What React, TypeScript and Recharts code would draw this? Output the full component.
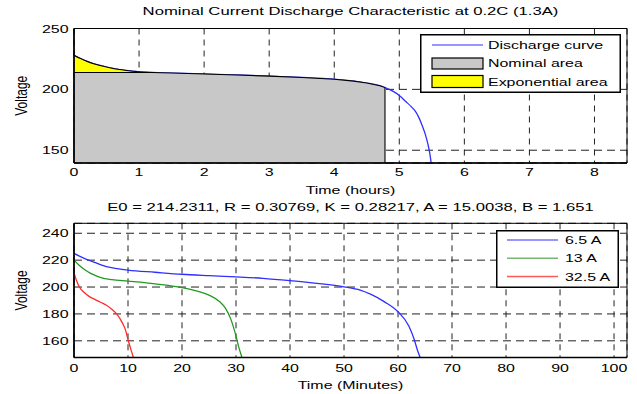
import React from 'react';
import { ComposedChart, Area, Line, XAxis, YAxis, CartesianGrid, Legend, Label, ReferenceArea } from 'recharts';

const FONT = '"Liberation Sans", Arial, sans-serif';
const SX = 1.45;

// ---------- top plot ----------
const topTitle = 'Nominal Current Discharge Characteristic at 0.2C (1.3A)';
const topXLabel = 'Time (hours)';
const yLabel = 'Voltage';
const topXTicks = [0, 1, 2, 3, 4, 5, 6, 7, 8];
const topYTicks = [150, 200, 250];
const topXDomain = [0, 8.5];
const topYDomain = [139.5, 250];
const topLegendNames = ['Discharge curve', 'Nominal area', 'Exponential area'];

const dischargeCurve = [
  { t: 0, v: 228 }, { t: 0.1, v: 225.3 }, { t: 0.2, v: 223 }, { t: 0.3, v: 221.1 },
  { t: 0.4, v: 219.6 }, { t: 0.5, v: 218.3 }, { t: 0.6, v: 217.2 }, { t: 0.7, v: 216.3 },
  { t: 0.8, v: 215.5 }, { t: 0.9, v: 214.9 }, { t: 1.0, v: 214.4 }, { t: 1.2, v: 213.9 },
  { t: 1.5, v: 213.4 }, { t: 2.0, v: 212.6 }, { t: 2.5, v: 211.8 }, { t: 3.0, v: 210.9 },
  { t: 3.5, v: 209.8 }, { t: 4.0, v: 208.3 }, { t: 4.3, v: 206.8 }, { t: 4.5, v: 205.2 },
  { t: 4.7, v: 203 }, { t: 4.78, v: 201.5 }, { t: 4.9, v: 198.5 }, { t: 5.0, v: 195 },
  { t: 5.1, v: 190 }, { t: 5.18, v: 186 }, { t: 5.24, v: 182.5 }, { t: 5.3, v: 177 },
  { t: 5.35, v: 170.5 }, { t: 5.4, v: 163 }, { t: 5.44, v: 155 }, { t: 5.47, v: 147 },
  { t: 5.49, v: 139.5 },
];

const nominalArea = [
  { t: 0, v: 213.8 }, { t: 1.2, v: 213.8 }, { t: 1.5, v: 213.4 }, { t: 2.0, v: 212.6 },
  { t: 2.5, v: 211.8 }, { t: 3.0, v: 210.9 }, { t: 3.5, v: 209.8 }, { t: 4.0, v: 208.3 },
  { t: 4.3, v: 206.8 }, { t: 4.5, v: 205.2 }, { t: 4.7, v: 203 }, { t: 4.78, v: 201.5 },
  { t: 4.78, v: 139.5 },
];

const exponentialArea = [
  { t: 0, lo: 213.8, hi: 228 }, { t: 0.1, lo: 213.8, hi: 225.3 }, { t: 0.2, lo: 213.8, hi: 223 },
  { t: 0.3, lo: 213.8, hi: 221.1 }, { t: 0.4, lo: 213.8, hi: 219.6 }, { t: 0.5, lo: 213.8, hi: 218.3 },
  { t: 0.6, lo: 213.8, hi: 217.2 }, { t: 0.7, lo: 213.8, hi: 216.3 }, { t: 0.8, lo: 213.8, hi: 215.5 },
  { t: 0.9, lo: 213.8, hi: 214.9 }, { t: 1.0, lo: 213.8, hi: 214.4 }, { t: 1.2, lo: 213.8, hi: 213.9 },
];

// ---------- bottom plot ----------
const bottomTitle = 'E0 = 214.2311, R = 0.30769, K = 0.28217, A = 15.0038, B = 1.651';
const bottomXLabel = 'Time (Minutes)';
const bottomXTicks = [0, 10, 20, 30, 40, 50, 60, 70, 80, 90, 100];
const bottomYTicks = [160, 180, 200, 220, 240];
const bottomXDomain = [0, 102.4];
const bottomYDomain = [147.6, 247.4];
const bottomLegendNames = ['6.5 A', '13 A', '32.5 A'];

const curve6_5A = [
  { t: 0, v: 225 }, { t: 1, v: 223 }, { t: 2, v: 221.2 }, { t: 3, v: 219.6 }, { t: 4, v: 218.1 },
  { t: 5, v: 216.4 }, { t: 6, v: 215.2 }, { t: 8, v: 213.7 }, { t: 10, v: 212.6 }, { t: 15, v: 211 },
  { t: 20, v: 209.5 }, { t: 25, v: 208.5 }, { t: 30, v: 207.6 }, { t: 35, v: 206.5 }, { t: 40, v: 204.8 },
  { t: 45, v: 202.8 }, { t: 50, v: 200.2 }, { t: 53, v: 197.7 }, { t: 55, v: 194.5 }, { t: 57.5, v: 189 },
  { t: 60, v: 181.6 }, { t: 62, v: 171 }, { t: 63, v: 161 }, { t: 63.6, v: 153 }, { t: 64.1, v: 147.6 },
];

const curve13A = [
  { t: 0, v: 220 }, { t: 1, v: 216 }, { t: 2, v: 212.8 }, { t: 3, v: 210.3 }, { t: 4, v: 208.5 },
  { t: 5, v: 207 }, { t: 7, v: 205.5 }, { t: 10, v: 204.4 }, { t: 15, v: 202.4 }, { t: 20, v: 199.6 },
  { t: 23, v: 196.8 }, { t: 25, v: 194 }, { t: 27, v: 189 }, { t: 28, v: 184.5 }, { t: 29, v: 176.5 },
  { t: 30, v: 163.5 }, { t: 30.5, v: 155.5 }, { t: 31.1, v: 147.6 },
];

const curve32_5A = [
  { t: 0, v: 210.5 }, { t: 0.5, v: 204.5 }, { t: 1, v: 200 }, { t: 2, v: 195.5 }, { t: 3, v: 192.5 },
  { t: 4, v: 190.5 }, { t: 5, v: 188.5 }, { t: 6, v: 186.5 }, { t: 7, v: 183.5 }, { t: 8, v: 179.5 },
  { t: 9, v: 173 }, { t: 9.5, v: 168.5 }, { t: 10, v: 161 }, { t: 10.5, v: 154 }, { t: 11, v: 147.6 },
];

// ---------- styles ----------
const BLUE = '#2f2fff';
const GREEN = '#229922';
const RED = '#ff2a2a';
const GRAY = '#c8c8c8';
const YELLOW = '#ffff00';
const LEG_BLUE = '#7474ff';
const LEG_GREEN = '#74b874';
const LEG_RED = '#ff5a5a';

const txt = (x: number, y: number, s: string, anchor: string, size = 11, rotate = false, key?: any) => (
  <text
    key={key}
    transform={`translate(${x},${y}) scale(${SX},1)${rotate ? ' rotate(-90)' : ''}`}
    textAnchor={anchor}
    fontFamily={FONT}
    fontSize={size}
    fill="#000"
  >
    {s}
  </text>
);

const makeXTick = (dy: number) => (p: any) => txt(p.x, p.y + dy, String(p.payload.value), 'middle');
const makeYTick = () => (p: any) => txt(p.x - 5.5, p.y + 4, String(p.payload.value), 'end');

const TopLegend = () => (
  <svg width={201} height={59} style={{ display: 'block' }}>
    <rect x={0.75} y={0.75} width={199.5} height={57.5} fill="#fff" stroke="#000" strokeWidth={1.5} />
    <line x1={12} x2={63} y1={11} y2={11} stroke={LEG_BLUE} strokeWidth={1.5} />
    <rect x={12} y={24} width={51} height={11} fill={GRAY} stroke="#000" strokeWidth={1.2} />
    <rect x={12} y={41.5} width={51} height={12} fill={YELLOW} stroke="#000" strokeWidth={1.2} />
    {topLegendNames.map((n, i) => txt(68, 15 + i * 18.3, n, 'start', 11, false, n))}
  </svg>
);

const BottomLegend = () => {
  const cols = [LEG_BLUE, LEG_GREEN, LEG_RED];
  return (
    <svg width={123} height={58} style={{ display: 'block' }}>
      <rect x={0.75} y={0.75} width={121.5} height={56.5} fill="#fff" stroke="#000" strokeWidth={1.5} />
      {bottomLegendNames.map((n, i) => (
        <g key={n}>
          <line x1={11} x2={62} y1={10 + i * 18.3} y2={10 + i * 18.3} stroke={cols[i]} strokeWidth={1.5} />
          {txt(69, 14 + i * 18.3, n, 'start')}
        </g>
      ))}
    </svg>
  );
};

const axisLine = { stroke: '#000', strokeWidth: 1.6 };

const titleLabel = (title: string, dy: number) => (
  <Label content={(p: any) => txt(p.viewBox.x + p.viewBox.width / 2, p.viewBox.y - dy, title, 'middle', 11.5)} />
);

export default function App() {
  return (
    <div style={{ position: 'absolute', left: 0, top: 0, width: 637, height: 394, background: '#fff' }}>
      <div style={{ position: 'absolute', left: 0, top: 0 }}>
        <ComposedChart width={637} height={200} margin={{ top: 28.5, right: 10, bottom: 7, left: 0 }}>
          <CartesianGrid vertical={false} strokeDasharray="8 5" stroke="#222" />
          <CartesianGrid horizontal={false} strokeDasharray="6 5" stroke="#222" />
          <XAxis dataKey="t" type="number" domain={topXDomain} ticks={topXTicks} allowDataOverflow
            height={30} tickSize={0} tickMargin={0} tickLine={false} axisLine={axisLine} tick={makeXTick(12.5)}>
            <Label content={(p: any) => txt(p.viewBox.x + p.viewBox.width / 2, p.viewBox.y + 30.5, topXLabel, 'middle')} />
          </XAxis>
          <YAxis type="number" domain={topYDomain} ticks={topYTicks} allowDataOverflow width={74}
            tickSize={0} tickMargin={0} tickLine={false} axisLine={axisLine} tick={makeYTick()}>
            <Label content={(p: any) => txt(27, p.viewBox.y + p.viewBox.height / 2, yLabel, 'middle', 12, true)} />
          </YAxis>
          <Area data={dischargeCurve} dataKey="v" name={topLegendNames[0]} type="monotone" fill="none" stroke={BLUE} strokeWidth={1.3} dot={false} isAnimationActive={false} />
          <Area data={nominalArea} dataKey="v" name={topLegendNames[1]} type="linear" fill={GRAY} fillOpacity={1} stroke="#000" strokeWidth={1.1} dot={false} isAnimationActive={false} />
          <Area data={exponentialArea} dataKey={(d: any) => [d.lo, d.hi]} name={topLegendNames[2]} type="monotone" fill={YELLOW} fillOpacity={1} stroke="#000" strokeWidth={1.1} dot={false} isAnimationActive={false} />
          <ReferenceArea x1={topXDomain[0]} x2={topXDomain[1]} y1={topYDomain[0]} y2={topYDomain[1]}
            fill="none" fillOpacity={0} stroke="#000" strokeWidth={1} ifOverflow="visible">
            {titleLabel(topTitle, 13.5)}
          </ReferenceArea>
          <Legend layout="horizontal" verticalAlign="middle" align="center"
            wrapperStyle={{ position: 'absolute', left: 420, top: 34, width: 201, height: 59, margin: 0, padding: 0 }}
            content={() => <TopLegend />} />
        </ComposedChart>
      </div>
      <div style={{ position: 'absolute', left: 0, top: 195 }}>
        <ComposedChart width={637} height={199} margin={{ top: 28.3, right: 10, bottom: 6.5, left: 0 }}>
          <CartesianGrid vertical={false} strokeDasharray="8 5" stroke="#222" />
          <CartesianGrid horizontal={false} strokeDasharray="6 5" stroke="#222" />
          <XAxis dataKey="t" type="number" domain={bottomXDomain} ticks={bottomXTicks} allowDataOverflow
            height={30} tickSize={0} tickMargin={0} tickLine={false} axisLine={axisLine} tick={makeXTick(14.5)}>
            <Label content={(p: any) => txt(p.viewBox.x + p.viewBox.width / 2, p.viewBox.y + 31.5, bottomXLabel, 'middle')} />
          </XAxis>
          <YAxis type="number" domain={bottomYDomain} ticks={bottomYTicks} allowDataOverflow width={74}
            tickSize={0} tickMargin={0} tickLine={false} axisLine={axisLine} tick={makeYTick()}>
            <Label content={(p: any) => txt(27, p.viewBox.y + p.viewBox.height / 2, yLabel, 'middle', 12, true)} />
          </YAxis>
          <Line data={curve6_5A} dataKey="v" name={bottomLegendNames[0]} type="monotone" stroke={BLUE} strokeWidth={1.3} dot={false} isAnimationActive={false} />
          <Line data={curve13A} dataKey="v" name={bottomLegendNames[1]} type="monotone" stroke={GREEN} strokeWidth={1.3} dot={false} isAnimationActive={false} />
          <Line data={curve32_5A} dataKey="v" name={bottomLegendNames[2]} type="monotone" stroke={RED} strokeWidth={1.3} dot={false} isAnimationActive={false} />
          <ReferenceArea x1={bottomXDomain[0]} x2={bottomXDomain[1]} y1={bottomYDomain[0]} y2={bottomYDomain[1]}
            fill="none" fillOpacity={0} stroke="#000" strokeWidth={1} ifOverflow="visible">
            {titleLabel(bottomTitle, 12.3)}
          </ReferenceArea>
          <Legend layout="horizontal" verticalAlign="middle" align="center"
            wrapperStyle={{ position: 'absolute', left: 496, top: 35, width: 123, height: 58, margin: 0, padding: 0 }}
            content={() => <BottomLegend />} />
        </ComposedChart>
      </div>
    </div>
  );
}
